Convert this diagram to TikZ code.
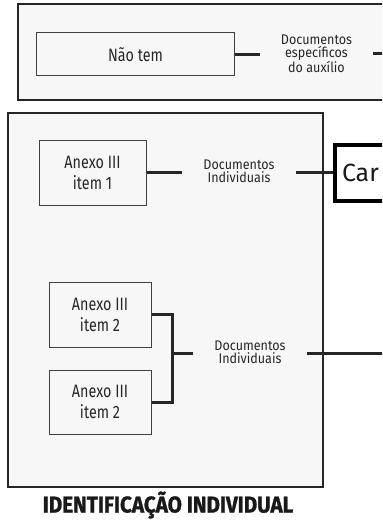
\documentclass[tikz,border=0pt]{standalone}
\usepackage{fontspec}
\setmainfont{Fira Sans}[FakeStretch=0.8]
\newfontfamily\labelfont{Fira Sans}[FakeStretch=0.9]
\newfontfamily\carfont{Fira Sans}
\newfontfamily\titlefont{Fira Sans}[FakeStretch=0.9, BoldFeatures={FakeBold=1.2}]
\begin{document}
\begin{tikzpicture}[x=1bp,y=-1bp,
  frame/.style={draw=black!85, line width=2bp, fill=black!3},
  itembox/.style={draw=black!75, line width=1bp, fill=black!3, inner sep=0pt,
    text=black!85, align=center, font=\fontsize{18}{21}\selectfont},
  doclabel/.style={inner sep=0pt, minimum height=30bp, align=center, text=black!85,
    font=\labelfont\fontsize{14}{13.2}\selectfont},
  conn/.style={draw=black!85, line width=3bp, line join=miter},
  carbox/.style={draw=black, line width=4bp, fill=white, inner xsep=7bp, inner ysep=0pt,
    text width=124bp, align=left, minimum height=56bp, anchor=west, text=black!90,
    font=\carfont\fontsize{25}{28}\selectfont}
]
\useasboundingbox (0,0) rectangle (382,523);
\clip (0,0) rectangle (382,523);
% top frame
\draw[frame] (18,4) rectangle (420,100);
\node[itembox, minimum width=197bp, minimum height=43bp] (naotem) at (135.5,54.5) {Não tem};
\node[doclabel, minimum width=113bp] (doc1) at (316.5,53.5) {Documentos\\específicos\\do auxílio};
\coordinate (out1) at (390,54);
\draw[conn] (naotem.east) -- (doc1.west |- naotem.east);
\draw[conn] (doc1.east |- out1) -- (out1);
% lower frame
\draw[frame] (8,113) rectangle (323,487);
\node[itembox, minimum width=107bp, minimum height=64bp] (a1) at (92.5,173) {Anexo III\\item 1};
\node[doclabel, minimum width=114bp] (doc2) at (239,171) {Documentos\\Individuais};
\node[carbox] (car) at (333,173) {Car};
\draw[conn] (a1.east) -- (doc2.west |- a1.east);
\draw[conn] (doc2.east |- car.west) -- (car.west);
\node[itembox, minimum width=102bp, minimum height=65bp] (a2a) at (100,314.5) {Anexo III\\item 2};
\node[itembox, minimum width=102bp, minimum height=64bp] (a2b) at (100,402) {Anexo III\\item 2};
\coordinate (j) at (172,353);
\node[doclabel, minimum width=114bp] (doc3) at (250,352) {Documentos\\Individuais};
\coordinate (out3) at (390,353);
\draw[conn] (a2a.east) -| (j);
\draw[conn] (a2b.east) -| (j);
\draw[conn] (j) -- (doc3.west |- j);
\draw[conn] (doc3.east |- out3) -- (out3);
\node[text=black!90, font=\titlefont\bfseries\fontsize{23}{26}\selectfont] (title) at (168,505) {IDENTIFICAÇÃO INDIVIDUAL};
\end{tikzpicture}
\end{document}
